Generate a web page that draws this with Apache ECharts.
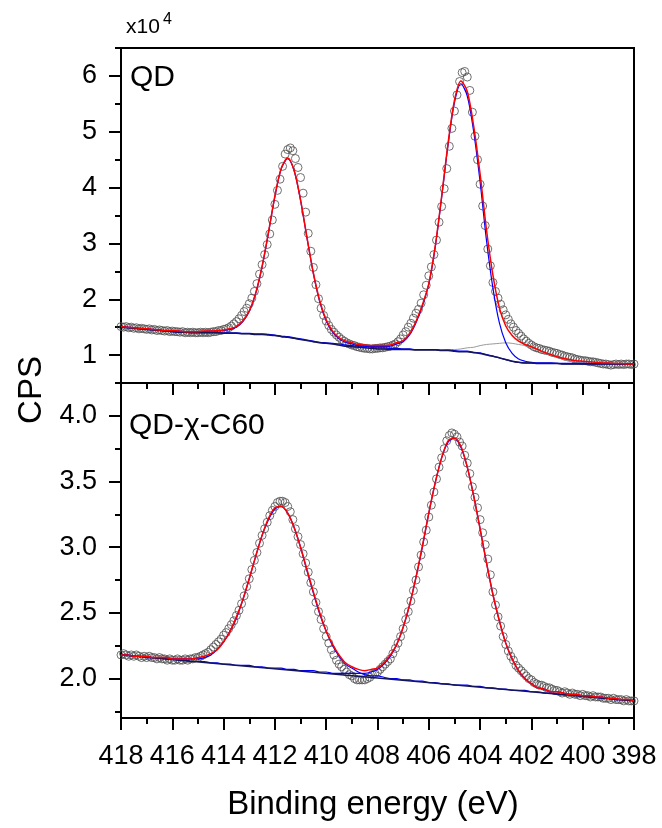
<!DOCTYPE html>
<html><head><meta charset="utf-8">
<script src="https://cdn.jsdelivr.net/npm/echarts@6/dist/echarts.min.js"></script>
<style>html,body{margin:0;padding:0;background:#fff}#c{width:662px;height:828px}</style>
</head><body><div id="c"></div>
<script>
// ---- x positions ----
const lineEnergy = [418,417.75,417.5,417.25,417,416.75,416.5,416.25,416,415.75,
415.5,415.25,415,414.75,414.5,414.25,414,413.75,413.5,413.25,
413,412.75,412.5,412.25,412,411.75,411.5,411.25,411,410.75,
410.5,410.25,410,409.75,409.5,409.25,409,408.75,408.5,408.25,
408,407.75,407.5,407.25,407,406.75,406.5,406.25,406,405.75,
405.5,405.25,405,404.75,404.5,404.25,404,403.75,403.5,403.25,
403,402.75,402.5,402.25,402,401.75,401.5,401.25,401,400.75,
400.5,400.25,400,399.75,399.5,399.25,399,398.75,398.5,398.25,398];
const pointEnergy = [418,417.9,417.8,417.7,417.6,417.5,417.4,417.3,417.2,417.1,
417,416.9,416.8,416.7,416.6,416.5,416.4,416.3,416.2,416.1,
416,415.9,415.8,415.7,415.6,415.5,415.4,415.3,415.2,415.1,
415,414.9,414.8,414.7,414.6,414.5,414.4,414.3,414.2,414.1,
414,413.9,413.8,413.7,413.6,413.5,413.4,413.3,413.2,413.1,
413,412.9,412.8,412.7,412.6,412.5,412.4,412.3,412.2,412.1,
412,411.9,411.8,411.7,411.6,411.5,411.4,411.3,411.2,411.1,
411,410.9,410.8,410.7,410.6,410.5,410.4,410.3,410.2,410.1,
410,409.9,409.8,409.7,409.6,409.5,409.4,409.3,409.2,409.1,
409,408.9,408.8,408.7,408.6,408.5,408.4,408.3,408.2,408.1,
408,407.9,407.8,407.7,407.6,407.5,407.4,407.3,407.2,407.1,
407,406.9,406.8,406.7,406.6,406.5,406.4,406.3,406.2,406.1,
406,405.9,405.8,405.7,405.6,405.5,405.4,405.3,405.2,405.1,
405,404.9,404.8,404.7,404.6,404.5,404.4,404.3,404.2,404.1,
404,403.9,403.8,403.7,403.6,403.5,403.4,403.3,403.2,403.1,
403,402.9,402.8,402.7,402.6,402.5,402.4,402.3,402.2,402.1,
402,401.9,401.8,401.7,401.6,401.5,401.4,401.3,401.2,401.1,
401,400.9,400.8,400.7,400.6,400.5,400.4,400.3,400.2,400.1,
400,399.9,399.8,399.7,399.6,399.5,399.4,399.3,399.2,399.1,
399,398.9,398.8,398.7,398.6,398.5,398.4,398.3,398.2,398.1,398];

// ---- QD panel (x10^4 CPS) ----
const qdPoints = [1.51,1.50,1.51,1.49,1.50,1.48,1.49,1.47,1.48,1.47,
1.46,1.47,1.45,1.46,1.44,1.45,1.44,1.43,1.44,1.42,
1.43,1.42,1.42,1.41,1.42,1.40,1.41,1.40,1.41,1.40,
1.40,1.41,1.40,1.41,1.40,1.41,1.42,1.42,1.44,1.44,
1.46,1.47,1.49,1.52,1.56,1.60,1.65,1.71,1.78,1.84,
1.92,2.02,2.14,2.28,2.45,2.62,2.80,2.98,3.17,3.42,
3.70,3.95,4.15,4.38,4.60,4.68,4.71,4.66,4.52,4.36,
4.18,3.90,3.56,3.18,2.86,2.57,2.26,2.01,1.84,1.71,
1.61,1.53,1.46,1.41,1.36,1.32,1.28,1.25,1.22,1.20,
1.18,1.17,1.15,1.14,1.13,1.12,1.12,1.11,1.11,1.12,
1.12,1.13,1.13,1.14,1.15,1.16,1.18,1.20,1.24,1.29,
1.36,1.42,1.50,1.57,1.66,1.75,1.82,1.93,2.08,2.25,
2.42,2.58,2.80,3.06,3.38,3.66,3.98,4.34,4.74,5.06,
5.37,5.66,5.90,6.06,6.08,5.98,5.74,5.35,4.92,4.50,
4.06,3.67,3.32,2.90,2.60,2.30,2.14,2.02,1.91,1.81,
1.72,1.64,1.56,1.50,1.44,1.39,1.34,1.29,1.25,1.21,
1.18,1.15,1.13,1.12,1.10,1.09,1.08,1.07,1.05,1.04,
1.03,1.01,1.00,0.98,0.97,0.96,0.95,0.93,0.92,0.91,
0.90,0.90,0.89,0.88,0.88,0.87,0.86,0.85,0.84,0.84,
0.83,0.82,0.83,0.84,0.83,0.84,0.83,0.84,0.84,0.83,0.84];
const qdFit = [1.51,1.50,1.49,1.48,1.47,1.46,1.45,1.44,1.44,1.43,
1.42,1.42,1.42,1.43,1.43,1.44,1.45,1.47,1.51,1.61,
1.79,2.11,2.59,3.20,3.85,4.35,4.53,4.31,3.78,3.11,
2.47,1.97,1.63,1.43,1.31,1.25,1.22,1.19,1.18,1.17,
1.17,1.17,1.18,1.22,1.26,1.38,1.60,1.90,2.28,2.95,
3.84,4.79,5.56,5.91,5.72,5.10,4.24,3.24,2.43,1.85,
1.52,1.35,1.25,1.19,1.15,1.10,1.05,1.01,0.97,0.94,
0.92,0.90,0.89,0.88,0.87,0.86,0.86,0.85,0.85,0.84,0.84];
const qdPeakA = [1.51,1.50,1.49,1.48,1.47,1.46,1.45,1.44,1.43,1.43,
1.42,1.42,1.42,1.42,1.43,1.43,1.44,1.46,1.50,1.60,
1.78,2.10,2.58,3.19,3.84,4.34,4.52,4.30,3.77,3.10,
2.46,1.95,1.61,1.41,1.29,1.23,1.20,1.17,1.16,1.14,
1.13,1.13,1.12,1.12,1.11,1.11,1.10,1.10,1.10,1.10,
1.09,1.09,1.08,1.07,1.07,1.05,1.04,1.01,0.98,0.95,
0.92,0.89,0.87,0.86,0.86,0.85,0.85,0.85,0.85,0.84,
0.84,0.84,0.84,0.84,0.84,0.84,0.84,0.84,0.84,0.84,0.84];
const qdPeakB = [1.50,1.49,1.48,1.47,1.46,1.45,1.44,1.43,1.42,1.41,
1.41,1.40,1.40,1.40,1.40,1.40,1.40,1.40,1.40,1.39,
1.39,1.38,1.38,1.37,1.36,1.34,1.33,1.31,1.29,1.27,
1.25,1.23,1.22,1.21,1.20,1.18,1.17,1.16,1.16,1.15,
1.15,1.15,1.16,1.20,1.24,1.36,1.58,1.88,2.27,2.93,
3.82,4.76,5.52,5.86,5.64,5.00,4.10,3.05,2.20,1.58,
1.22,1.03,0.93,0.89,0.87,0.86,0.86,0.86,0.85,0.85,
0.85,0.85,0.85,0.85,0.85,0.85,0.85,0.84,0.84,0.84,0.84];
const qdTail = [1.50,1.49,1.48,1.47,1.46,1.45,1.44,1.43,1.42,1.41,
1.41,1.40,1.40,1.40,1.40,1.40,1.39,1.39,1.39,1.38,
1.38,1.37,1.37,1.36,1.35,1.33,1.32,1.30,1.28,1.26,
1.24,1.22,1.21,1.20,1.18,1.16,1.15,1.14,1.13,1.12,
1.11,1.11,1.10,1.10,1.10,1.10,1.09,1.09,1.09,1.09,
1.09,1.10,1.10,1.11,1.13,1.14,1.17,1.19,1.20,1.21,
1.22,1.21,1.19,1.17,1.13,1.09,1.04,1.00,0.96,0.92,
0.89,0.87,0.86,0.85,0.85,0.84,0.84,0.84,0.84,0.84,0.84];
const qdBackground = [1.50,1.49,1.48,1.47,1.46,1.45,1.44,1.43,1.42,1.41,
1.41,1.40,1.40,1.40,1.40,1.40,1.39,1.39,1.39,1.38,
1.38,1.37,1.37,1.36,1.35,1.33,1.32,1.30,1.28,1.26,
1.24,1.22,1.21,1.20,1.18,1.16,1.15,1.14,1.13,1.12,
1.11,1.11,1.10,1.10,1.10,1.10,1.09,1.09,1.09,1.09,
1.08,1.08,1.07,1.06,1.06,1.04,1.03,1.00,0.98,0.95,
0.92,0.89,0.87,0.86,0.86,0.85,0.85,0.85,0.85,0.84,
0.84,0.84,0.84,0.84,0.84,0.84,0.84,0.84,0.84,0.84,0.84];

// ---- QD-chi-C60 panel (x10^4 CPS) ----
const c60Points = [2.18,2.19,2.18,2.17,2.18,2.17,2.18,2.17,2.16,2.17,
2.16,2.17,2.16,2.16,2.15,2.16,2.15,2.15,2.14,2.15,
2.14,2.14,2.15,2.14,2.14,2.15,2.14,2.15,2.15,2.16,
2.16,2.17,2.18,2.19,2.20,2.22,2.24,2.26,2.28,2.30,
2.33,2.35,2.38,2.41,2.44,2.48,2.52,2.57,2.63,2.70,
2.76,2.83,2.90,2.96,3.03,3.09,3.14,3.19,3.24,3.28,
3.31,3.34,3.35,3.35,3.34,3.31,3.27,3.21,3.14,3.08,
3.02,2.95,2.88,2.81,2.73,2.66,2.58,2.51,2.45,2.38,
2.32,2.27,2.22,2.18,2.14,2.11,2.09,2.07,2.05,2.03,
2.02,2.00,1.99,1.99,1.99,1.99,2.00,2.01,2.03,2.04,
2.05,2.07,2.09,2.11,2.13,2.15,2.19,2.23,2.27,2.32,
2.38,2.45,2.51,2.59,2.67,2.75,2.85,2.94,3.04,3.13,
3.23,3.32,3.42,3.52,3.61,3.68,3.75,3.81,3.85,3.87,
3.86,3.84,3.80,3.77,3.70,3.64,3.56,3.46,3.38,3.30,
3.21,3.11,3.02,2.91,2.79,2.66,2.56,2.47,2.40,2.32,
2.26,2.21,2.17,2.14,2.10,2.08,2.06,2.04,2.02,2.00,
1.99,1.97,1.96,1.95,1.95,1.94,1.93,1.93,1.92,1.91,
1.91,1.90,1.89,1.90,1.89,1.88,1.89,1.88,1.88,1.87,
1.88,1.87,1.87,1.86,1.87,1.86,1.86,1.86,1.85,1.85,
1.85,1.84,1.85,1.84,1.84,1.84,1.83,1.84,1.83,1.83,1.83];
const c60Fit = [2.18,2.18,2.17,2.17,2.17,2.16,2.16,2.16,2.15,2.15,
2.15,2.15,2.16,2.17,2.19,2.22,2.28,2.36,2.47,2.60,
2.76,2.93,3.09,3.22,3.30,3.31,3.26,3.15,3.00,2.83,
2.66,2.50,2.36,2.26,2.18,2.12,2.09,2.07,2.06,2.07,
2.08,2.12,2.18,2.26,2.39,2.56,2.77,3.01,3.26,3.49,
3.68,3.81,3.83,3.77,3.61,3.39,3.14,2.88,2.64,2.44,
2.27,2.15,2.06,2.00,1.96,1.93,1.92,1.90,1.90,1.89,
1.88,1.88,1.87,1.87,1.86,1.86,1.85,1.85,1.84,1.84,1.83];
const c60PeakA = [2.18,2.18,2.17,2.17,2.17,2.16,2.16,2.16,2.15,2.15,
2.15,2.15,2.15,2.16,2.18,2.22,2.28,2.36,2.46,2.60,
2.76,2.93,3.09,3.21,3.29,3.31,3.26,3.15,3.00,2.82,
2.65,2.49,2.36,2.25,2.17,2.11,2.08,2.05,2.03,2.02,
2.02,2.01,2.00,2.00,1.99,1.99,1.98,1.98,1.97,1.97,
1.96,1.96,1.95,1.95,1.95,1.94,1.94,1.93,1.93,1.92,
1.92,1.91,1.91,1.91,1.90,1.90,1.89,1.89,1.88,1.88,
1.88,1.87,1.87,1.86,1.86,1.85,1.85,1.84,1.84,1.84,1.83];
const c60PeakB = [2.18,2.18,2.17,2.17,2.16,2.16,2.16,2.15,2.15,2.14,
2.14,2.13,2.13,2.13,2.12,2.12,2.11,2.11,2.10,2.10,
2.10,2.09,2.09,2.08,2.08,2.08,2.07,2.07,2.06,2.06,
2.06,2.05,2.05,2.04,2.04,2.04,2.04,2.04,2.04,2.05,
2.07,2.11,2.17,2.26,2.39,2.56,2.77,3.00,3.26,3.49,
3.68,3.80,3.83,3.76,3.61,3.39,3.14,2.88,2.64,2.44,
2.27,2.15,2.06,2.00,1.96,1.93,1.92,1.90,1.90,1.89,
1.88,1.88,1.87,1.87,1.86,1.86,1.85,1.85,1.84,1.84,1.83];
const c60BackgroundEnergy = [418, 398];
const c60Background = [2.18, 1.83];

// ---- axes ----
const energyRange = [398, 418];
const energyStep = 2;
const qdTicks = [1, 2, 3, 4, 5, 6];
const qdMinorTicks = [0.5, 1.5, 2.5, 3.5, 4.5, 5.5, 6.5];
const qdRange = [0.5, 6.5];
const c60Ticks = [2.0, 2.5, 3.0, 3.5, 4.0];
const c60MinorTicks = [1.75, 2.25, 2.75, 3.25, 3.75, 4.25];
const c60Range = [1.7, 4.25];

const FONT = '"Liberation Sans", Arial, Helvetica, sans-serif';
const pairs = (xs, ys) => xs.map((x, i) => [x, ys[i]]);

const chart = echarts.init(document.getElementById('c'), null, {renderer: 'canvas'});

function xAxis(gi, labels) {
  return {
    gridIndex: gi, type: 'value', position: 'bottom', min: energyRange[0], max: energyRange[1], interval: energyStep, inverse: true,
    axisLine: {show: true, lineStyle: {color: '#000', width: 2}},
    axisTick: {show: true, inside: false, length: 12, lineStyle: {color: '#000', width: 2}},
    minorTick: {show: true, splitNumber: 2, length: 6, lineStyle: {color: '#000', width: 2}},
    axisLabel: {show: labels, color: '#000', fontSize: 27, fontFamily: FONT, margin: 25},
    splitLine: {show: false}, minorSplitLine: {show: false}
  };
}
function yMain(gi, range, ticks, fmt) {
  return {
    gridIndex: gi, type: 'value', position: 'left', min: range[0], max: range[1],
    axisLine: {show: true, lineStyle: {color: '#000', width: 2}},
    axisTick: {show: true, length: 12, customValues: ticks, lineStyle: {color: '#000', width: 2}},
    axisLabel: {show: true, customValues: ticks, color: '#000', fontSize: 27, fontFamily: FONT, margin: 24, formatter: fmt},
    splitLine: {show: false}
  };
}
function yMinor(gi, range, ticks) {
  return {
    gridIndex: gi, type: 'value', position: 'left', offset: 0, min: range[0], max: range[1],
    axisLine: {show: false},
    axisTick: {show: true, length: 6, customValues: ticks, lineStyle: {color: '#000', width: 2}},
    axisLabel: {show: false}, splitLine: {show: false}
  };
}
function line(xi, yi, xs, ys, color, width, z) {
  return {type: 'line', xAxisIndex: xi, yAxisIndex: yi, data: pairs(xs, ys), showSymbol: false, symbol: 'none',
    smooth: 0.3, lineStyle: {color: color, width: width}, z: z, silent: true};
}
function dots(xi, yi, ys) {
  return {type: 'scatter', xAxisIndex: xi, yAxisIndex: yi, data: pairs(pointEnergy, ys), symbol: 'circle', symbolSize: 8,
    itemStyle: {color: 'rgba(255,255,255,0)', borderColor: '#4d4d4d', borderWidth: 1}, z: 2, silent: true};
}

const RED = '#ff0000', BLUE = '#0000ff', NAVY = '#15155a', GRAY = '#9a9a9a';

chart.setOption({
  animation: false,
  backgroundColor: '#fff',
  grid: [
    {left: 121, right: 28, top: 48, height: 335, show: true, borderColor: '#000', borderWidth: 2, backgroundColor: 'rgba(0,0,0,0)'},
    {left: 121, right: 28, top: 383, height: 335, show: true, borderColor: '#000', borderWidth: 2, backgroundColor: 'rgba(0,0,0,0)'}
  ],
  xAxis: [xAxis(0, false), xAxis(1, true)],
  yAxis: [
    yMain(0, qdRange, qdTicks, v => String(v)),
    yMinor(0, qdRange, qdMinorTicks),
    yMain(1, c60Range, c60Ticks, v => Number(v).toFixed(1)),
    yMinor(1, c60Range, c60MinorTicks)
  ],
  series: [
    dots(0, 0, qdPoints),
    line(0, 0, lineEnergy, qdTail, GRAY, 1, 3),
    line(0, 0, lineEnergy, qdPeakA, BLUE, 1.2, 4),
    line(0, 0, lineEnergy, qdPeakB, BLUE, 1.2, 4),
    line(0, 0, lineEnergy, qdBackground, NAVY, 1.5, 5),
    line(0, 0, lineEnergy, qdFit, RED, 1.5, 6),
    dots(1, 2, c60Points),
    line(1, 2, lineEnergy, c60PeakA, BLUE, 1.2, 4),
    line(1, 2, lineEnergy, c60PeakB, BLUE, 1.2, 4),
    line(1, 2, c60BackgroundEnergy, c60Background, NAVY, 1.5, 5),
    line(1, 2, lineEnergy, c60Fit, RED, 1.5, 6)
  ],
  graphic: [
    {type: 'text', x: 126, y: 27, style: {text: 'x10', fontSize: 21, fontFamily: FONT, fill: '#000', textAlign: 'left', textVerticalAlign: 'middle'}},
    {type: 'text', x: 163, y: 20, style: {text: '4', fontSize: 16, fontFamily: FONT, fill: '#000', textAlign: 'left', textVerticalAlign: 'middle'}},
    {type: 'text', x: 130, y: 78, style: {text: 'QD', fontSize: 30, fontFamily: FONT, fill: '#000', textAlign: 'left', textVerticalAlign: 'middle'}},
    {type: 'text', x: 129, y: 426, style: {text: 'QD-χ-C60', fontSize: 30, fontFamily: FONT, fill: '#000', textAlign: 'left', textVerticalAlign: 'middle'}},
    {type: 'text', x: 32, y: 390, rotation: Math.PI / 2, style: {text: 'CPS', fontSize: 33, fontFamily: FONT, fill: '#000', textAlign: 'center', textVerticalAlign: 'middle'}},
    {type: 'text', x: 373, y: 805, style: {text: 'Binding energy (eV)', fontSize: 33, fontFamily: FONT, fill: '#000', textAlign: 'center', textVerticalAlign: 'middle'}}
  ]
});
</script>
</body></html>
